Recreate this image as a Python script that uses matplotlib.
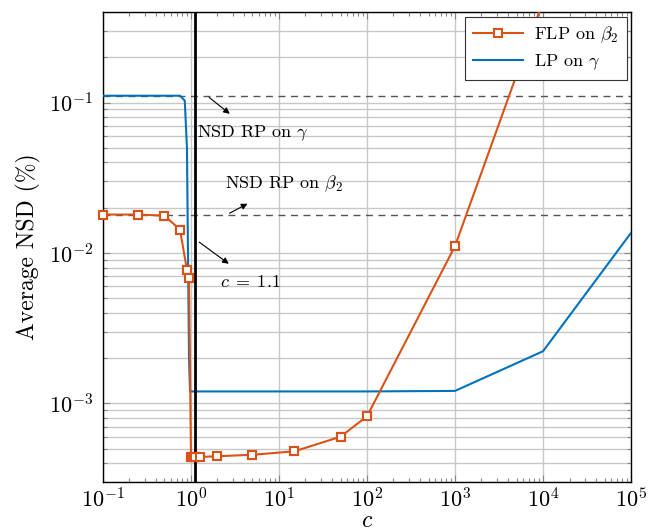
import matplotlib as mpl
import matplotlib.pyplot as plt
from matplotlib.ticker import LogLocator, NullFormatter

# data
c_flp = [0.1, 0.25, 0.5, 0.75, 0.9, 0.95, 1.0, 1.05, 1.1, 1.25, 2, 5, 15, 50, 100, 1000, 10000]
nsd_flp = [0.018, 0.018, 0.0177, 0.0143, 0.0077, 0.0068, 4.38e-4, 4.38e-4, 4.4e-4,
           4.4e-4, 4.45e-4, 4.55e-4, 4.8e-4, 6.0e-4, 8.2e-4, 0.0111, 0.47]

c_lp = [0.1, 0.25, 0.5, 0.75, 0.85, 0.9, 0.95, 0.975, 1.1, 1.25, 2, 5, 15, 50, 100, 1000, 10000, 100000]
nsd_lp = [0.111, 0.111, 0.111, 0.111, 0.103, 0.05, 0.002, 0.0012, 0.0012, 0.0012,
          0.0012, 0.0012, 0.0012, 0.0012, 0.0012, 0.00121, 0.00222, 0.0136]

rp_gamma = 0.111
rp_beta2 = 0.018
c_mark = 1.1

orange = '#D95319'
blue = '#0072BD'

plt.rcParams['font.family'] = 'cmr10'
plt.rcParams['mathtext.fontset'] = 'cm'
plt.rcParams['axes.formatter.use_mathtext'] = True
plt.rc('font', size=13)

fig = plt.figure(figsize=(6.58, 5.31), dpi=100)
ax = fig.add_axes([0.1565, 0.0923, 0.8025, 0.8851])

ax.set_xscale('log')
ax.set_yscale('log')
ax.set_xlim(0.1, 1e5)
ax.set_ylim(3e-4, 0.4)

ax.grid(True, which='major', axis='x', color='#c8c8c8', lw=1.0)
ax.grid(True, which='both', axis='y', color='#c8c8c8', lw=1.0)
ax.set_axisbelow(True)

ax.axhline(rp_gamma, color='#555555', lw=1.0, ls=(0, (5, 4)), zorder=2)
ax.axhline(rp_beta2, color='#555555', lw=1.0, ls=(0, (5, 4)), zorder=2)

ax.plot(c_flp, nsd_flp, color=orange, lw=1.5, marker='s', ms=6, mfc='white',
        mec=orange, mew=1.5, markevery=list(range(len(c_flp) - 1)),
        label=r'FLP on $\beta_2$', zorder=4)
# first marker sits on the left spine, draw the visible markers unclipped
ax.plot(c_flp[:-1], nsd_flp[:-1], ls='none', marker='s', ms=6, mfc='white',
        mec=orange, mew=1.5, zorder=6, clip_on=False)
ax.plot(c_lp, nsd_lp, color=blue, lw=1.5, label=r'LP on $\gamma$', zorder=3)

ax.axvline(c_mark, color='black', lw=2, zorder=5)

arrow = dict(arrowstyle='-|>', color='black', lw=0.8, mutation_scale=9)
ax.annotate('', xy=(2.92, 0.082), xytext=(1.52, rp_gamma), arrowprops=arrow)
ax.text(1.17, 0.0622, r'NSD RP on $\gamma$', fontsize=13, va='center', ha='left')
ax.annotate('', xy=(4.68, 0.0217), xytext=(2.57, rp_beta2), arrowprops=arrow)
ax.text(2.43, 0.029, r'NSD RP on $\beta_2$', fontsize=13, va='center', ha='left')
ax.annotate('', xy=(2.85, 0.00826), xytext=(1.17, 0.0121), arrowprops=arrow)
ax.text(2.14, 0.00637, r'$c\;=\;1.1$', fontsize=13, va='center', ha='left')

ax.xaxis.set_major_locator(LogLocator(base=10, numticks=10))
ax.xaxis.set_minor_locator(LogLocator(base=10, subs=range(2, 10), numticks=20))
ax.xaxis.set_minor_formatter(NullFormatter())
ax.yaxis.set_minor_locator(LogLocator(base=10, subs=range(2, 10), numticks=20))
ax.yaxis.set_minor_formatter(NullFormatter())
ax.tick_params(which='both', direction='in', top=True, right=True, labelsize=16)
ax.tick_params(which='major', length=5, width=0.8, colors='#888888', labelcolor='black')
ax.tick_params(which='minor', length=3, width=0.8, colors='#888888')
ax.tick_params(axis='y', which='major', pad=7)
ax.tick_params(axis='x', which='major', pad=4)
for s in ax.spines.values():
    s.set_color('black')
    s.set_linewidth(1.0)

ax.set_xlabel(r'$c$', fontsize=17, labelpad=-1)
ax.set_ylabel('Average NSD (%)', fontsize=17, labelpad=6)

leg = ax.legend(loc='upper right', fontsize=13, fancybox=False, framealpha=1,
                edgecolor='#333333', borderaxespad=0.25, handlelength=2.8,
                borderpad=0.45, labelspacing=0.4, handletextpad=0.6)
leg.get_frame().set_linewidth(0.8)

plt.savefig('out.png', dpi=100)
